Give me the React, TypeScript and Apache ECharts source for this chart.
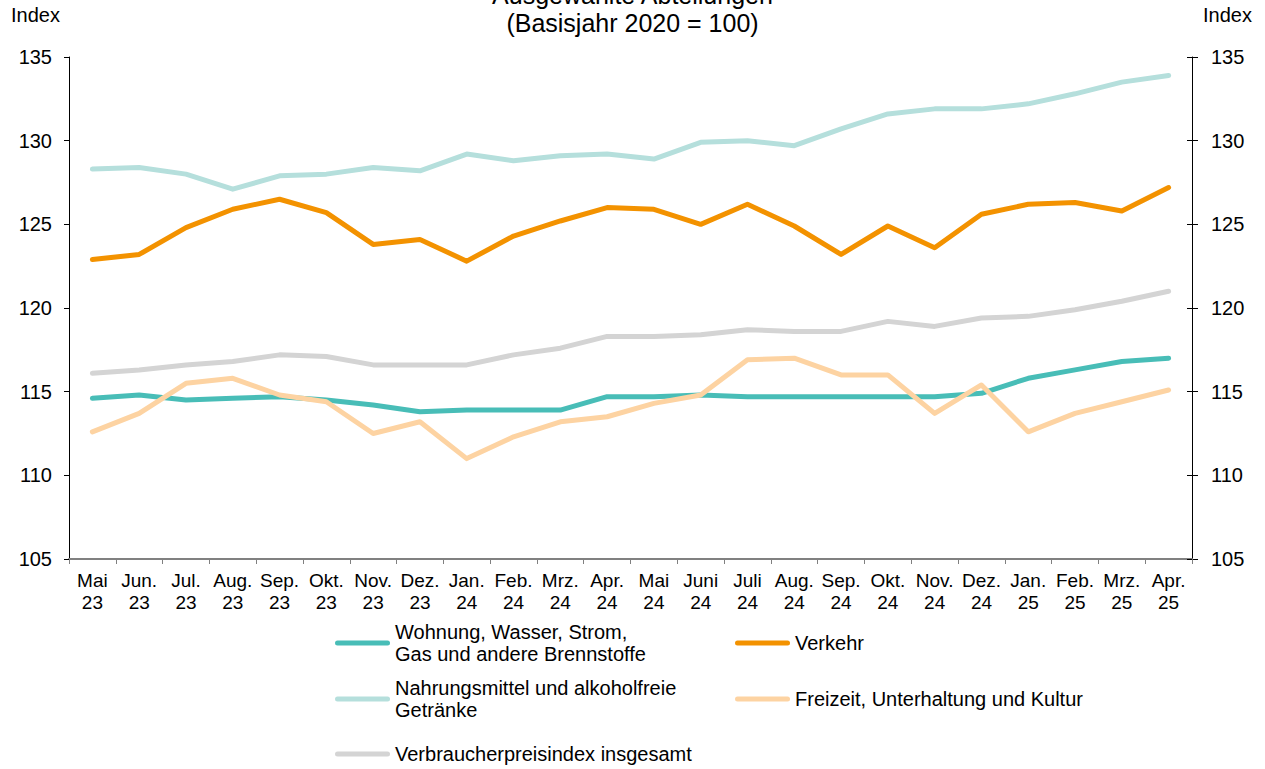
import React, { useEffect, useRef } from "react";
import * as echarts from "echarts";

const categories = [
  "Mai\n23", "Jun.\n23", "Jul.\n23", "Aug.\n23", "Sep.\n23", "Okt.\n23", "Nov.\n23", "Dez.\n23",
  "Jan.\n24", "Feb.\n24", "Mrz.\n24", "Apr.\n24", "Mai\n24", "Juni\n24", "Juli\n24", "Aug.\n24",
  "Sep.\n24", "Okt.\n24", "Nov.\n24", "Dez.\n24", "Jan.\n25", "Feb.\n25", "Mrz.\n25", "Apr.\n25",
];

const wohnung = [114.6, 114.8, 114.5, 114.6, 114.7, 114.5, 114.2, 113.8, 113.9, 113.9, 113.9, 114.7,
  114.7, 114.8, 114.7, 114.7, 114.7, 114.7, 114.7, 114.9, 115.8, 116.3, 116.8, 117.0];
const verkehr = [122.9, 123.2, 124.8, 125.9, 126.5, 125.7, 123.8, 124.1, 122.8, 124.3, 125.2, 126.0,
  125.9, 125.0, 126.2, 124.9, 123.2, 124.9, 123.6, 125.6, 126.2, 126.3, 125.8, 127.2];
const nahrung = [128.3, 128.4, 128.0, 127.1, 127.9, 128.0, 128.4, 128.2, 129.2, 128.8, 129.1, 129.2,
  128.9, 129.9, 130.0, 129.7, 130.7, 131.6, 131.9, 131.9, 132.2, 132.8, 133.5, 133.9];
const freizeit = [112.6, 113.7, 115.5, 115.8, 114.8, 114.4, 112.5, 113.2, 111.0, 112.3, 113.2, 113.5,
  114.3, 114.8, 116.9, 117.0, 116.0, 116.0, 113.7, 115.4, 112.6, 113.7, 114.4, 115.1];
const vpi = [116.1, 116.3, 116.6, 116.8, 117.2, 117.1, 116.6, 116.6, 116.6, 117.2, 117.6, 118.3,
  118.3, 118.4, 118.7, 118.6, 118.6, 119.2, 118.9, 119.4, 119.5, 119.9, 120.4, 121.0];

const seriesNames = [
  "Wohnung, Wasser, Strom, Gas und andere Brennstoffe",
  "Verkehr",
  "Nahrungsmittel und alkoholfreie Getränke",
  "Freizeit, Unterhaltung und Kultur",
  "Verbraucherpreisindex insgesamt",
];
const legendLabels = [
  "Wohnung, Wasser, Strom,\nGas und andere Brennstoffe",
  "Verkehr",
  "Nahrungsmittel und alkoholfreie\nGetränke",
  "Freizeit, Unterhaltung und Kultur",
  "Verbraucherpreisindex insgesamt",
];
const colors = ["#48BDB7", "#F39200", "#B5DFDC", "#FDD3A2", "#D4D4D4"];
const yTicks = { min: 105, max: 135, interval: 5 };
const titleText = "Ausgewählte Abteilungen\n(Basisjahr 2020 = 100)";
const axisName = "Index";

const FONT = "'Liberation Sans', Arial, sans-serif";

export default function App() {
  const ref = useRef<HTMLDivElement>(null);
  useEffect(() => {
    if (!ref.current) return;
    const chart = echarts.init(ref.current, null, { renderer: "svg" });
    const data = [wohnung, verkehr, nahrung, freizeit, vpi];
    const LH = 22;
    const legendPos = [
      { left: 335, row: 643, multi: true },
      { left: 735, row: 643, multi: false },
      { left: 335, row: 699, multi: true },
      { left: 735, row: 699, multi: false },
      { left: 335, row: 754, multi: false },
    ];
    const iconPath = "path://M2.5,0 L52.5,0 A2.5,2.5 0 0 1 52.5,5 L2.5,5 A2.5,2.5 0 0 1 2.5,0 Z";
    const legends = seriesNames.map((name, i) => {
      const p = legendPos[i];
      return {
        data: [name],
        left: p.left,
        top: p.multi ? p.row - LH * 1.5 : p.row - LH / 2,
        padding: 0,
        itemWidth: 55,
        itemHeight: 5,
        icon: iconPath,
        selectedMode: false,
        formatter: () => legendLabels[i],
        textStyle: {
          fontFamily: FONT,
          fontSize: 20,
          color: "#000",
          lineHeight: LH,
          padding: p.multi ? [LH, 0, 0, 0] : 0,
        },
      };
    });
    const baseY = {
      type: "value",
      min: yTicks.min,
      max: yTicks.max,
      interval: yTicks.interval,
      splitLine: { show: false },
    };
    chart.setOption({
      animation: false,
      textStyle: { fontFamily: FONT },
      title: {
        text: titleText,
        left: "center",
        top: -24,
        padding: [5, 12, 5, 5],
        textStyle: {
          fontFamily: FONT,
          fontSize: 25,
          fontWeight: "normal",
          color: "#000",
          lineHeight: 28,
        },
      },
      legend: legends,
      grid: { left: 69, right: 73, top: 57, bottom: 210, containLabel: false },
      xAxis: {
        type: "category",
        data: categories,
        boundaryGap: true,
        axisLine: { lineStyle: { color: "#808080", width: 2 } },
        axisTick: { show: true, length: 5, lineStyle: { color: "#808080", width: 1 } },
        axisLabel: {
          interval: 0,
          fontFamily: FONT,
          fontSize: 19,
          color: "#000",
          lineHeight: 22,
          margin: 10,
        },
      },
      yAxis: [
        {
          ...baseY,
          position: "left",
          name: axisName,
          nameLocation: "end",
          nameGap: 32,
          nameTextStyle: { fontFamily: FONT, fontSize: 20, color: "#000", align: "right", padding: [0, 9, 0, 0] },
          axisLine: { show: true, lineStyle: { color: "#000", width: 1 } },
          axisTick: { show: true, length: 5, lineStyle: { color: "#000" } },
          axisLabel: { fontFamily: FONT, fontSize: 20, color: "#000", margin: 17 },
        },
        {
          ...baseY,
          position: "right",
          name: axisName,
          nameLocation: "end",
          nameGap: 32,
          nameTextStyle: { fontFamily: FONT, fontSize: 20, color: "#000", align: "left", padding: [0, 0, 0, 11] },
          axisLine: { show: true, lineStyle: { color: "#000", width: 1 } },
          axisTick: { show: true, length: 6, lineStyle: { color: "#000" } },
          axisLabel: { fontFamily: FONT, fontSize: 20, color: "#000", margin: 19 },
        },
        {
          ...baseY,
          position: "right",
          axisLine: { show: false },
          axisTick: { show: true, inside: true, length: 5, lineStyle: { color: "#000" } },
          axisLabel: { show: false },
        },
      ],
      series: seriesNames.map((name, i) => ({
        name,
        type: "line",
        data: data[i],
        yAxisIndex: 0,
        showSymbol: false,
        symbol: "none",
        color: colors[i],
        itemStyle: { color: colors[i] },
        lineStyle: { color: colors[i], width: 5, cap: "round", join: "round" },
        z: i === 4 ? 1 : 2,
      })),
    });
    return () => chart.dispose();
  }, []);
  return <div ref={ref} style={{ width: 1265, height: 769, position: "absolute", left: 0, top: 0 }} />;
}
